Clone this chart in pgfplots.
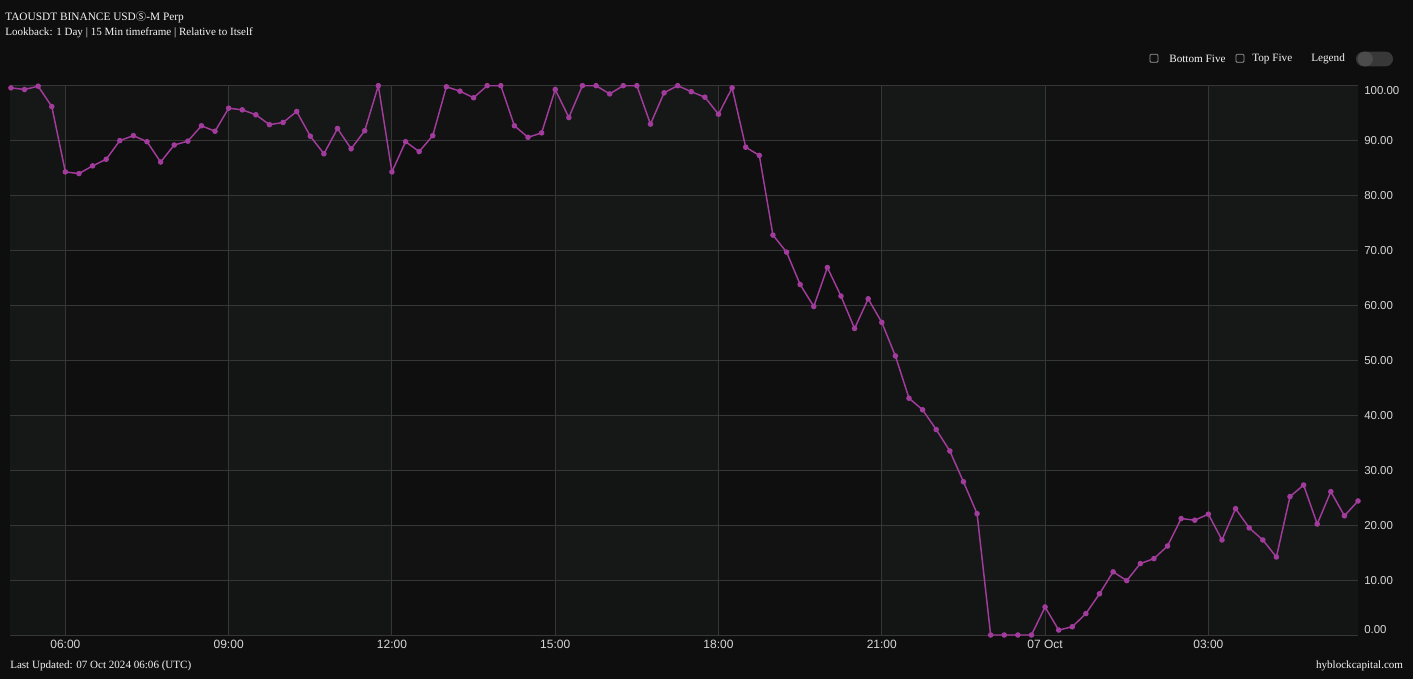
\documentclass[border=0pt]{standalone}
\usepackage{fontspec}
\usepackage{pgfplots}
\pgfplotsset{compat=1.18}
\setmainfont{Liberation Serif}
\setsansfont{Liberation Sans}
\newfontfamily\cjk{Noto Sans CJK SC}

\definecolor{pagebg}{HTML}{0E0E0E}
\definecolor{plotlight}{HTML}{161817}
\definecolor{gridc}{HTML}{363636}
\definecolor{linec}{HTML}{A23C9C}
\definecolor{txt}{HTML}{F4F4F4}
\definecolor{ticktxt}{HTML}{D8D8D8}

\pgfplotsset{
  frame/.style={
    at={(7.5pt,33pt)}, anchor=south west,
    scale only axis,
    width=1011pt, height=412pt,
    xmin=-0.07, xmax=99,
    ymin=0, ymax=100,
  }
}

\pgfplotstableread{
x y
0 99.6
1 99.3
2 99.9
3 96.2
4 84.3
5 84.0
6 85.4
7 86.6
8 90.0
9 90.9
10 89.8
11 86.1
12 89.2
13 89.9
14 92.7
15 91.7
16 95.9
17 95.6
18 94.7
19 92.9
20 93.3
21 95.3
22 90.8
23 87.6
24 92.2
25 88.5
26 91.8
27 100
28 84.3
29 89.8
30 88.0
31 90.9
32 99.8
33 99.0
34 97.8
35 100
36 100
37 92.7
38 90.6
39 91.4
40 99.3
41 94.2
42 100
43 100
44 98.5
45 100
46 100
47 93.0
48 98.7
49 100
50 98.9
51 97.9
52 94.8
53 99.6
54 88.8
55 87.3
56 72.8
57 69.7
58 63.8
59 59.8
60 66.9
61 61.7
62 55.8
63 61.2
64 56.9
65 50.8
66 43.1
67 41.0
68 37.4
69 33.5
70 27.9
71 22.1
72 0
73 0
74 0
75 0
76 5.1
77 0.9
78 1.5
79 3.9
80 7.5
81 11.5
82 9.9
83 13.0
84 13.9
85 16.2
86 21.2
87 20.9
88 22.0
89 17.3
90 23.0
91 19.5
92 17.3
93 14.2
94 25.2
95 27.3
96 20.2
97 26.1
98 21.7
99 24.4
}\taodata

\begin{document}
\begin{tikzpicture}
% page: 1413x679 px at 0.75pt per px
\fill[pagebg] (0,0) rectangle (1059.75pt,509.25pt);

% background bands
\begin{axis}[frame, hide axis]
  \fill[plotlight] (axis cs:-0.07,0) rectangle (axis cs:99,100);
  \fill[black, opacity=0.22] (axis cs:4,0) rectangle (axis cs:16,100);
  \fill[black, opacity=0.22] (axis cs:28,0) rectangle (axis cs:40,100);
  \fill[black, opacity=0.22] (axis cs:52,0) rectangle (axis cs:64,100);
  \fill[black, opacity=0.22] (axis cs:76,0) rectangle (axis cs:88,100);
  \fill[black, opacity=0.12] (axis cs:-0.07,80) rectangle (axis cs:99,90);
  \fill[black, opacity=0.12] (axis cs:-0.07,60) rectangle (axis cs:99,70);
  \fill[black, opacity=0.12] (axis cs:-0.07,40) rectangle (axis cs:99,50);
  \fill[black, opacity=0.12] (axis cs:-0.07,20) rectangle (axis cs:99,30);
  \fill[black, opacity=0.12] (axis cs:-0.07,0) rectangle (axis cs:99,10);
\end{axis}

\begin{axis}[
    frame,
    axis line style={draw=none},
    major tick length=0pt,
    grid=major,
    major grid style={gridc, line width=0.75pt},
    xtick={4,16,28,40,52,64,76,88},
    xticklabels={06:00,09:00,12:00,15:00,18:00,21:00,07 Oct,03:00},
    xticklabel style={font=\sffamily\fontsize{9}{10}\selectfont, text=ticktxt, inner sep=0pt, yshift=-3.5pt},
    ytick={10,20,...,90},
    yticklabels={10.00,20.00,30.00,40.00,50.00,60.00,70.00,80.00,90.00},
    extra y ticks={0,100},
    extra y tick labels={},
    yticklabel pos=right,
    yticklabel style={font=\sffamily\fontsize{8.6}{10}\selectfont, text=ticktxt, anchor=west, inner sep=0pt, xshift=4.5pt},
]
\addplot[linec, line width=1.1pt, mark=*, mark size=1.5pt,
         mark options={fill=linec, draw=linec}] table[x=x, y=y] {\taodata};
\end{axis}

% y labels for the edge ticks, kept inside the plot height
\node[anchor=south west, inner sep=0pt, font=\sffamily\fontsize{8.6}{10}\selectfont, text=ticktxt]
  at (1023pt,33.6pt) {0.00};
\node[anchor=north west, inner sep=0pt, font=\sffamily\fontsize{8.6}{10}\selectfont, text=ticktxt]
  at (1023pt,444.3pt) {100.00};

% titles
\node[anchor=west, inner sep=0pt, text=txt, font=\fontsize{8.5}{10}\selectfont]
  at (3.75pt,496.5pt) {TAOUSDT BINANCE USD{\cjk\fontsize{7.8}{10}\selectfont Ⓢ}-M Perp};
\node[anchor=west, inner sep=0pt, text=txt, font=\fontsize{8.3}{10}\selectfont]
  at (3.75pt,484.5pt) {Lookback: 1 Day | 15 Min timeframe | Relative to Itself};

% legend controls
\draw[gray!80, line width=0.6pt, rounded corners=0.8pt] (862.5pt,462.5pt) rectangle (868.5pt,468.5pt);
\node[anchor=west, inner sep=0pt, text=txt, font=\fontsize{8.4}{10}\selectfont] at (876.75pt,465pt) {Bottom Five};
\draw[gray!80, line width=0.6pt, rounded corners=0.8pt] (927pt,462.5pt) rectangle (933pt,468.5pt);
\node[anchor=west, inner sep=0pt, text=txt, font=\fontsize{8.4}{10}\selectfont] at (939pt,465pt) {Top Five};
\node[anchor=west, inner sep=0pt, text=txt, font=\fontsize{8.4}{10}\selectfont] at (983.25pt,465pt) {Legend};
\fill[black!78, rounded corners=5.5pt] (1017pt,459.5pt) rectangle (1044.75pt,470.5pt);
\fill[black!70] (1024pt,465pt) circle (5.6pt);

% footer
\node[anchor=west, inner sep=0pt, text=txt, font=\fontsize{8.3}{10}\selectfont] at (7.5pt,9.75pt) {Last Updated: 07 Oct 2024 06:06 (UTC)};
\node[anchor=east, inner sep=0pt, text=txt, font=\fontsize{8.3}{10}\selectfont] at (1052.5pt,9.75pt) {hyblockcapital.com};
\end{tikzpicture}
\end{document}
